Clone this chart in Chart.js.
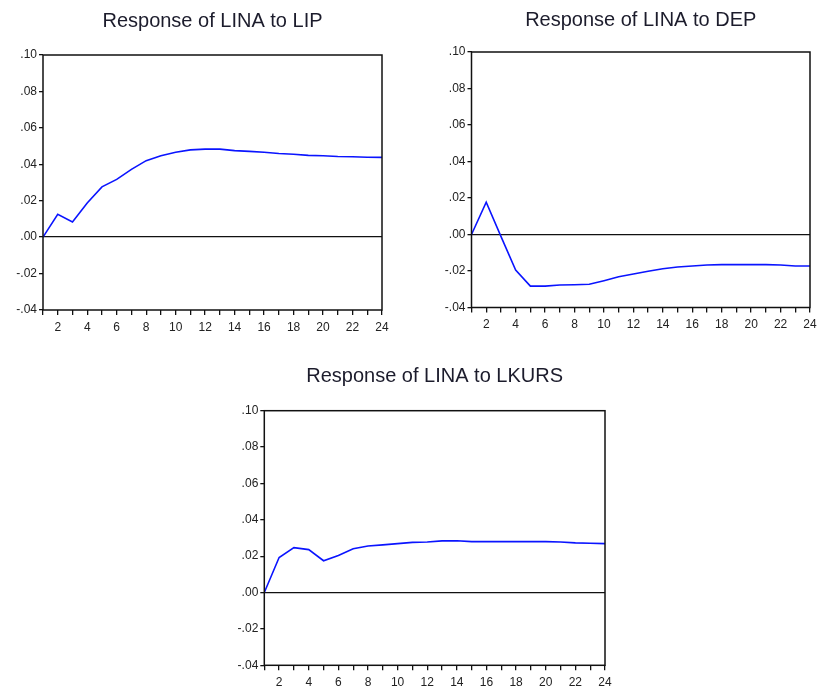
<!DOCTYPE html>
<html>
<head>
<meta charset="utf-8">
<script src="https://cdn.jsdelivr.net/npm/chart.js@4.4.1/dist/chart.umd.min.js"></script>
<style>
    body { margin: 0; background: #fff; }
    #wrap { position: relative; width: 817px; height: 686px; overflow: hidden; }
    canvas { position: absolute; }
</style>
</head>
<body>
<div id="wrap">
    <canvas id="c1" width="400" height="345" style="left:0px;top:0px"></canvas>
    <canvas id="c2" width="420" height="345" style="left:420px;top:0px"></canvas>
    <canvas id="c3" width="400" height="341" style="left:220px;top:345px"></canvas>
</div>
<script>
// periods after the shock
const periods = [1, 2, 3, 4, 5, 6, 7, 8, 9, 10, 11, 12, 13, 14, 15, 16, 17, 18, 19, 20, 21, 22, 23, 24];

// y axis ticks shared by all three panels
const yTicks = [-0.04, -0.02, 0.00, 0.02, 0.04, 0.06, 0.08, 0.10];

const titles = ['Response of LINA to LIP', 'Response of LINA to DEP', 'Response of LINA to LKURS'];

const respLIP = [0.000, 0.0125, 0.0083, 0.0188, 0.0276, 0.0317, 0.0372, 0.0420, 0.0447, 0.0466, 0.0479, 0.0483,
    0.0483, 0.0475, 0.0471, 0.0466, 0.0459, 0.0455, 0.0449, 0.0447, 0.0443, 0.0441, 0.0439, 0.0438];

const respDEP = [0.000, 0.0177, -0.001, -0.0195, -0.0283, -0.0283, -0.0277, -0.0275, -0.0273, -0.0253, -0.0232, -0.0216,
    -0.0201, -0.0188, -0.0178, -0.0173, -0.0167, -0.0165, -0.0165, -0.0165, -0.0165, -0.0167, -0.0173, -0.0173];

const respLKURS = [0.000, 0.0193, 0.0247, 0.0236, 0.0175, 0.0204, 0.0241, 0.0256, 0.0262, 0.0269, 0.0276, 0.0278,
    0.0284, 0.0285, 0.0280, 0.0280, 0.0280, 0.0280, 0.0280, 0.0280, 0.0278, 0.0273, 0.0271, 0.0269];

// draws the closed box round the plot area
const frame = {
    id: 'frame',
    afterDatasetsDraw(chart)
    {
        const a = chart.chartArea;
        const ctx = chart.ctx;
        ctx.save();
        ctx.strokeStyle = '#111';
        ctx.lineWidth = 1.5;
        ctx.strokeRect(a.left, a.top, a.right - a.left, a.bottom - a.top);
        ctx.restore();
    }
};

function fmtY(v)
{
    if (Math.abs(v) < 1e-9) return '.00';
    return v.toFixed(2).replace('0.', '.');
}

function makePanel(id, title, values, box)
{
    const canvas = document.getElementById(id);
    const w = canvas.width;
    const h = canvas.height;

    return new Chart(canvas, {
        type: 'line',
        data: {
            datasets: [
                {
                    data: periods.map((p, i) => ({ x: p, y: values[i] })),
                    borderColor: '#0a14ff',
                    borderWidth: 1.6,
                    pointRadius: 0,
                    tension: 0,
                    fill: false
                }
            ]
        },
        options: {
            responsive: false,
            animation: false,
            devicePixelRatio: 1,
            layout: {
                padding: { top: 0, left: 0, bottom: 0, right: w - box.right }
            },
            plugins: {
                legend: { display: false },
                tooltip: { enabled: false },
                title: {
                    display: true,
                    text: title,
                    fullSize: false,
                    color: '#1c1c2c',
                    font: { family: 'Liberation Sans, Arial', size: 20, weight: 'normal', lineHeight: 1.2 },
                    padding: { top: box.titleTop, bottom: box.top - box.titleTop - 24 }
                }
            },
            scales: {
                x: {
                    type: 'linear',
                    min: periods[0],
                    max: periods[periods.length - 1],
                    afterFit: (s) => { s.height = h - box.bottom; },
                    border: { display: false },
                    grid: {
                        drawOnChartArea: false,
                        tickColor: '#111',
                        tickLength: 5,
                        lineWidth: 1.3
                    },
                    ticks: {
                        stepSize: 1,
                        autoSkip: false,
                        maxRotation: 0,
                        padding: 5,
                        color: '#222',
                        font: { family: 'Liberation Sans, Arial', size: 12 },
                        callback: (v) => (v % 2 === 0 ? String(v) : '')
                    }
                },
                y: {
                    min: yTicks[0],
                    max: yTicks[yTicks.length - 1],
                    afterFit: (s) => { s.width = box.left; },
                    afterBuildTicks: (s) => { s.ticks = yTicks.map((v) => ({ value: v })); },
                    border: { display: false },
                    grid: {
                        color: (c) => (c.tick && Math.abs(c.tick.value) < 1e-9 ? '#111' : 'rgba(0,0,0,0)'),
                        tickColor: '#111',
                        tickLength: 4,
                        lineWidth: 1.3
                    },
                    ticks: {
                        padding: 2,
                        color: '#222',
                        font: { family: 'Liberation Sans, Arial', size: 12 },
                        callback: (v) => fmtY(v)
                    }
                }
            }
        },
        plugins: [frame]
    });
}

makePanel('c1', titles[0], respLIP, { left: 43, right: 382, top: 55, bottom: 310, titleTop: 9.5 });
makePanel('c2', titles[1], respDEP, { left: 51.5, right: 390, top: 52, bottom: 307.5, titleTop: 8.5 });
makePanel('c3', titles[2], respLKURS, { left: 44.3, right: 385, top: 65.7, bottom: 320.3, titleTop: 19.5 });
</script>
</body>
</html>
